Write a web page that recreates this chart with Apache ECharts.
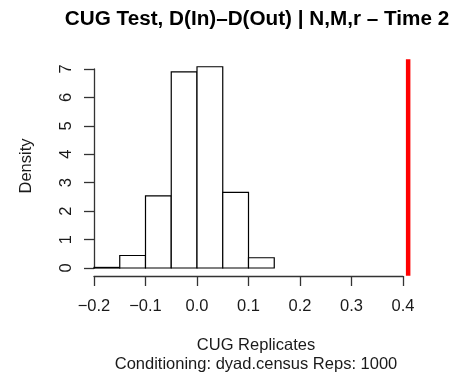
<!DOCTYPE html>
<html>
<head>
<meta charset="utf-8">
<script src="https://cdn.jsdelivr.net/npm/echarts@6/dist/echarts.min.js"></script>
<style>
  html, body { margin: 0; padding: 0; background: #fff; }
  #chart { width: 463px; height: 375px; }
</style>
</head>
<body>
<div id="chart"></div>
<script>
// Histogram bins of the replicated statistic (density scale)
const binStart = [-0.20, -0.15, -0.10, -0.05, 0.00, 0.05, 0.10];
const binEnd   = [-0.15, -0.10, -0.05, 0.00, 0.05, 0.10, 0.15];
const density  = [0.02, 0.44, 2.54, 6.90, 7.08, 2.66, 0.36];

// Observed statistic, drawn across the full plot region
const observed = 0.41;
const observedSpan = [-0.27, 7.34];

// Axis ticks
const xTicks = [-0.2, -0.1, 0.0, 0.1, 0.2, 0.3, 0.4];
const xTickLabels = ['\u22120.2', '\u22120.1', '0.0', '0.1', '0.2', '0.3', '0.4'];
const yTicks = [0, 1, 2, 3, 4, 5, 6, 7];
const yTickLabels = ['0', '1', '2', '3', '4', '5', '6', '7'];

const FONT = 'Liberation Sans, Arial, Helvetica, sans-serif';
const AXIS_COLOR = '#333';
const TEXT_COLOR = '#1a1a1a';

const bins = binStart.map((s, i) => [s, binEnd[i], density[i]]);

const chart = echarts.init(document.getElementById('chart'), null, { renderer: 'canvas' });

chart.setOption({
  animation: false,
  backgroundColor: '#fff',
  grid: { left: 94, right: 60, top: 69, bottom: 107, containLabel: false },
  xAxis: {
    type: 'value',
    min: xTicks[0],
    max: xTicks[xTicks.length - 1],
    interval: 0.1,
    offset: 8,
    axisLine: { show: true, onZero: false, lineStyle: { color: AXIS_COLOR, width: 1.3 } },
    axisTick: { show: true, length: 10, lineStyle: { color: AXIS_COLOR, width: 1.3 } },
    axisLabel: {
      margin: 22,
      fontFamily: FONT,
      fontSize: 16.5,
      color: TEXT_COLOR,
      formatter: (v) => {
        const i = xTicks.findIndex(t => Math.abs(t - v) < 1e-9);
        return i >= 0 ? xTickLabels[i] : '';
      }
    },
    splitLine: { show: false }
  },
  yAxis: {
    type: 'value',
    min: yTicks[0],
    max: yTicks[yTicks.length - 1],
    interval: 1,
    axisLine: { show: true, onZero: false, lineStyle: { color: AXIS_COLOR, width: 1.3 } },
    axisTick: { show: true, length: 10, lineStyle: { color: AXIS_COLOR, width: 1.3 } },
    axisLabel: {
      rotate: 90,
      margin: 19,
      fontFamily: FONT,
      fontSize: 16.5,
      color: TEXT_COLOR,
      formatter: (v) => {
        const i = yTicks.indexOf(Math.round(v));
        return i >= 0 ? yTickLabels[i] : '';
      }
    },
    splitLine: { show: false }
  },
  series: [
    {
      type: 'custom',
      data: bins,
      clip: false,
      renderItem: (params, api) => {
        const p0 = api.coord([api.value(0), api.value(2)]);
        const p1 = api.coord([api.value(1), 0]);
        return {
          type: 'rect',
          shape: { x: p0[0], y: p0[1], width: p1[0] - p0[0], height: p1[1] - p0[1] },
          style: { fill: '#fff', stroke: '#000', lineWidth: 1.2 }
        };
      }
    },
    {
      // vertical reference line at the observed value
      type: 'custom',
      data: [[observed, observedSpan[0], observedSpan[1]]],
      clip: false,
      renderItem: (params, api) => {
        const a = api.coord([api.value(0), api.value(1)]);
        const b = api.coord([api.value(0), api.value(2)]);
        return {
          type: 'line',
          shape: { x1: a[0], y1: a[1], x2: b[0], y2: b[1] },
          style: { stroke: '#ff0000', lineWidth: 4.5, lineCap: 'butt' }
        };
      }
    }
  ],
  graphic: [
    {
      type: 'text', x: 257, y: 19,
      style: {
        text: 'CUG Test, D(In)\u2013D(Out) | N,M,r \u2013 Time 2',
        font: 'bold 20.7px ' + FONT, fill: '#000',
        textAlign: 'center', textVerticalAlign: 'middle'
      }
    },
    {
      type: 'text', x: 256, y: 345,
      style: {
        text: 'CUG Replicates',
        font: '16.5px ' + FONT, fill: TEXT_COLOR,
        textAlign: 'center', textVerticalAlign: 'middle'
      }
    },
    {
      type: 'text', x: 256, y: 364,
      style: {
        text: 'Conditioning: dyad.census Reps: 1000',
        font: '16.5px ' + FONT, fill: TEXT_COLOR,
        textAlign: 'center', textVerticalAlign: 'middle'
      }
    },
    {
      type: 'text', x: 26, y: 166, rotation: Math.PI / 2,
      style: {
        text: 'Density',
        font: '16.5px ' + FONT, fill: TEXT_COLOR,
        textAlign: 'center', textVerticalAlign: 'middle'
      }
    }
  ]
});
</script>
</body>
</html>
